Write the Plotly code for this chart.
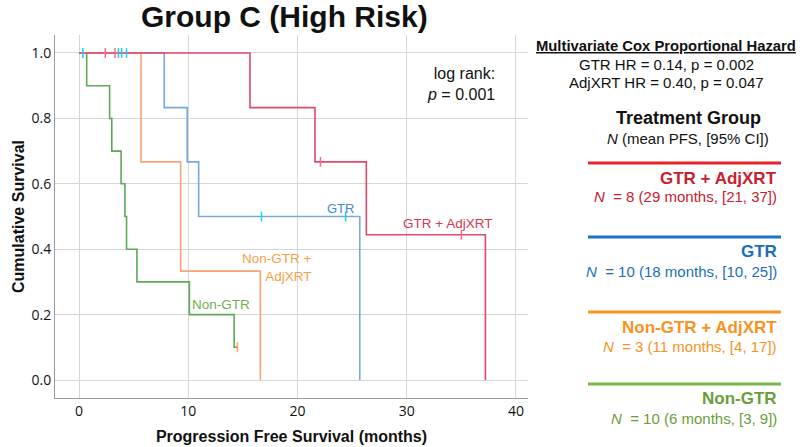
import plotly.graph_objects as go

# ---------------- data ----------------
# Kaplan-Meier step curves: time (months) and survival after each step
nongtr_t = [0, 0.7, 2.8, 3.0, 3.85, 4.2, 4.35, 5.3, 10.1, 14.2, 14.5]
nongtr_s = [1.0, 0.9, 0.8, 0.7, 0.6, 0.5, 0.4, 0.3, 0.2, 0.1, 0.1]
nongtr_cens_t = [14.5]
nongtr_cens_s = [0.1]

nongtr_xrt_t = [0, 5.67, 9.3, 16.6]
nongtr_xrt_s = [1.0, 0.667, 0.333, 0.0]
nongtr_xrt_cens_t = []
nongtr_xrt_cens_s = []

gtr_t = [0, 7.8, 9.9, 10.95, 25.7]
gtr_s = [1.0, 0.833, 0.667, 0.5, 0.0]
gtr_cens_t = [0.35, 3.6, 3.9, 4.35, 16.7, 24.4]
gtr_cens_s = [1.0, 1.0, 1.0, 1.0, 0.5, 0.5]

gtr_xrt_t = [0, 15.65, 21.6, 26.3, 37.2]
gtr_xrt_s = [1.0, 0.833, 0.667, 0.444, 0.0]
gtr_xrt_cens_t = [2.4, 3.3, 22.1, 35.0]
gtr_xrt_cens_s = [1.0, 1.0, 0.667, 0.444]

x_ticks = [0, 10, 20, 30, 40]
y_ticks = [0.0, 0.2, 0.4, 0.6, 0.8, 1.0]
y_tick_labels = ["0.0", "0.2", "0.4", "0.6", "0.8", "1.0"]

group_names = ["GTR + AdjXRT", "GTR", "Non-GTR + AdjXRT", "Non-GTR"]
group_stats = ["<i>N</i>  = 8 (29 months, [21, 37])",
               "<i>N</i>  = 10 (18 months, [10, 25])",
               "<i>N</i>  = 3 (11 months, [4, 17])",
               "<i>N</i>  = 10 (6 months, [3, 9])"]

# ---------------- styling ----------------
W, H = 800, 447
PL, PR, PT, PB = 55, 528, 35, 398  # plot area in pixels

curve_cols = {"nongtr": "#5ea85a", "nongtr_xrt": "#f9a274",
              "gtr": "#78a8de", "gtr_xrt": "#e2486c"}
label_cols = {"nongtr": "#72ad52", "nongtr_xrt": "#f7a043",
              "gtr": "#3f8ad2", "gtr_xrt": "#d63a4e"}
legend_line_cols = ["#e8232a", "#1b75c2", "#f7931e", "#7ab648"]
legend_text_cols = ["#c9202f", "#1a6fb8", "#f7931e", "#6a9e3a"]

FONT = "Liberation Sans, Arial, sans-serif"


def px(x):
    return (x - PL) / (PR - PL)


def py(y):
    return (PB - y) / (PB - PT)


fig = go.Figure()

curves = [
    ("nongtr", nongtr_t, nongtr_s, nongtr_cens_t, nongtr_cens_s),
    ("gtr", gtr_t, gtr_s, gtr_cens_t, gtr_cens_s),
    ("nongtr_xrt", nongtr_xrt_t, nongtr_xrt_s, nongtr_xrt_cens_t, nongtr_xrt_cens_s),
    ("gtr_xrt", gtr_xrt_t, gtr_xrt_s, gtr_xrt_cens_t, gtr_xrt_cens_s),
]
for key, t, s, ct, cs in curves:
    fig.add_trace(go.Scatter(x=t, y=s, mode="lines", line=dict(color=curve_cols[key], width=1.6, shape="hv"),
                             showlegend=False, hoverinfo="skip"))
for key, t, s, ct, cs in curves:
    if ct:
        fig.add_trace(go.Scatter(x=ct, y=cs, mode="markers",
                                 marker=dict(symbol="line-ns-open", size=7,
                                             line=dict(color=curve_cols[key], width=1.5)),
                                 showlegend=False, hoverinfo="skip"))

fig.update_xaxes(range=[-2.2, 41.1], tickvals=x_ticks, showgrid=True, gridcolor="#d6d6d6", gridwidth=1,
                 zeroline=False, showline=True, linecolor="#9a9a9a", linewidth=1, ticks="",
                 automargin=False,
                 tickfont=dict(family="Open Sans, sans-serif", size=14, color="#111"),
                 title=dict(text="<b>Progression Free Survival (months)</b>",
                            font=dict(family=FONT, size=16, color="#111"), standoff=12))
fig.update_yaxes(range=[-0.055, 1.055], tickvals=y_ticks, ticktext=y_tick_labels, showgrid=True,
                 gridcolor="#d6d6d6", gridwidth=1, zeroline=False, showline=True, linecolor="#9a9a9a",
                 linewidth=1, ticks="", ticklabelstandoff=0, automargin=False,
                 tickfont=dict(family="Open Sans, sans-serif", size=14, color="#111"),
                 title=dict(text="<b>Cumulative Survival</b>",
                            font=dict(family=FONT, size=16, color="#111"), standoff=2))

ann = []
# title
ann.append(dict(x=px(284), y=py(17), xref="paper", yref="paper", text="<b>Group C (High Risk)</b>",
                showarrow=False, font=dict(family=FONT, size=30, color="#111"),
                xanchor="center", yanchor="middle"))
# log rank
ann.append(dict(x=px(461), y=py(84), xref="paper", yref="paper",
                text="log rank:<br><i>p</i> = 0.001", showarrow=False,
                font=dict(family=FONT, size=16, color="#111"), align="right",
                xanchor="center", yanchor="middle"))
# curve labels
ann.append(dict(x=px(340), y=py(208), xref="paper", yref="paper", text="GTR", showarrow=False,
                font=dict(family=FONT, size=13, color=label_cols["gtr"]), xanchor="center", yanchor="middle"))
ann.append(dict(x=px(447), y=py(223), xref="paper", yref="paper", text="GTR + AdjXRT", showarrow=False,
                font=dict(family=FONT, size=13.5, color=label_cols["gtr_xrt"]), xanchor="center", yanchor="middle"))
ann.append(dict(x=px(314), y=py(267), xref="paper", yref="paper", text="Non-GTR +<br>AdjXRT", showarrow=False,
                font=dict(family=FONT, size=13.5, color=label_cols["nongtr_xrt"]), align="right",
                xanchor="right", yanchor="middle"))
ann.append(dict(x=px(221), y=py(304), xref="paper", yref="paper", text="Non-GTR", showarrow=False,
                font=dict(family=FONT, size=13.5, color=label_cols["nongtr"]), xanchor="center", yanchor="middle"))

# right-side panel
ann.append(dict(x=px(666), y=py(46), xref="paper", yref="paper",
                text="<b><u>Multivariate Cox Proportional Hazard</u></b>", showarrow=False,
                font=dict(family=FONT, size=14.8, color="#111"), xanchor="center", yanchor="middle"))
ann.append(dict(x=px(666), y=py(64), xref="paper", yref="paper", text="GTR HR = 0.14, p = 0.002",
                showarrow=False, font=dict(family=FONT, size=15, color="#111"), xanchor="center", yanchor="middle"))
ann.append(dict(x=px(666), y=py(82), xref="paper", yref="paper", text="AdjXRT HR = 0.40, p = 0.047",
                showarrow=False, font=dict(family=FONT, size=15, color="#111"), xanchor="center", yanchor="middle"))
ann.append(dict(x=px(688), y=py(118), xref="paper", yref="paper", text="<b>Treatment Group</b>",
                showarrow=False, font=dict(family=FONT, size=18, color="#111"), xanchor="center", yanchor="middle"))
ann.append(dict(x=px(688), y=py(138), xref="paper", yref="paper", text="<i>N</i> (mean PFS, [95% CI])",
                showarrow=False, font=dict(family=FONT, size=15, color="#111"), xanchor="center", yanchor="middle"))

shapes = []
line_y = [163, 237, 312, 384]
for i, name in enumerate(group_names):
    ly = line_y[i]
    shapes.append(dict(type="line", xref="paper", yref="paper", x0=px(588), x1=px(781),
                       y0=py(ly), y1=py(ly), line=dict(color=legend_line_cols[i], width=3)))
    ann.append(dict(x=px(779), y=py(ly + 15), xref="paper", yref="paper", text="<b>" + name + "</b>",
                    showarrow=False, font=dict(family=FONT, size=17, color=legend_text_cols[i]),
                    xanchor="right", yanchor="middle"))
    ann.append(dict(x=px(779), y=py(ly + 34), xref="paper", yref="paper", text=group_stats[i],
                    showarrow=False, font=dict(family=FONT, size=15, color=legend_text_cols[i]),
                    xanchor="right", yanchor="middle"))

fig.update_layout(width=W, height=H, margin=dict(l=PL, r=W - PR, t=PT, b=H - PB),
                  plot_bgcolor="white", paper_bgcolor="white", annotations=ann, shapes=shapes,
                  showlegend=False)

fig.write_html("out.html", config={"displayModeBar": False},
               post_script="document.body.style.margin='0';document.body.style.overflow='hidden';")
